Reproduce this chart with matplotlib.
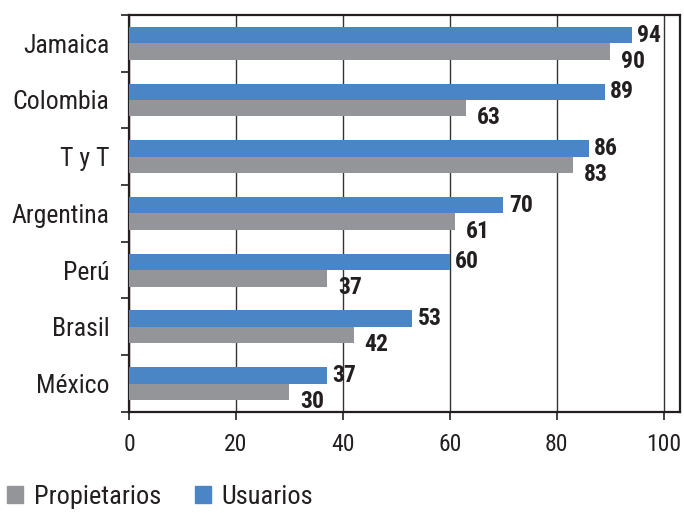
import numpy as np
import matplotlib
matplotlib.use("Agg")
import matplotlib.pyplot as plt
from matplotlib.patches import Patch

plt.rcParams['font.family'] = ['Roboto Condensed', 'DejaVu Sans']

# ===== datos =====
paises = ["Jamaica", "Colombia", "T y T", "Argentina", "Perú", "Brasil", "México"]
usuarios = [94, 89, 86, 70, 60, 53, 37]
propietarios = [90, 63, 83, 61, 37, 42, 30]
xticks = [0, 20, 40, 60, 80, 100]

azul = "#4a86c5"
gris = "#939598"
texto = "#231f20"

fig = plt.figure(figsize=(6.84, 5.13), dpi=100)
ax = fig.add_axes([0.1886, 0.197, 0.805, 0.774])

y = np.arange(len(paises))
h = 0.29
ax.barh(y - h / 2, usuarios, height=h, color=azul, zorder=3)
ax.barh(y + h / 2, propietarios, height=h, color=gris, zorder=3)

# etiquetas de valor
for yi, u, p in zip(y, usuarios, propietarios):
    ax.annotate(str(u), (u, yi - h / 2), xytext=(4, 0), textcoords="offset points",
                ha="left", va="center", fontsize=17, fontweight="bold", color=texto)
    ax.annotate(str(p), (p, yi + h * 1.08), xytext=(8, 0), textcoords="offset points",
                ha="left", va="center", fontsize=17, fontweight="bold", color=texto)

ax.set_ylim(len(paises) - 0.5, -0.5)
ax.set_xlim(0, 103)
ax.set_xticks(xticks)
ax.set_xticklabels([str(t) for t in xticks])
ax.set_yticks(y)
ax.set_yticklabels(paises)
ax.set_yticks(np.arange(-0.5, len(paises)), minor=True)
ax.tick_params(axis="y", which="major", length=0, pad=14, labelsize=18.5, labelcolor=texto)
ax.tick_params(axis="y", which="minor", length=6, width=1.2, color=texto)
ax.tick_params(axis="x", length=6, width=1.2, pad=9, labelsize=17, labelcolor=texto, color=texto)

ax.grid(axis="x", color="#333333", linewidth=1.0, zorder=0)
for s in ax.spines.values():
    s.set_color(texto)
    s.set_linewidth(1.6)

handles = [Patch(color=gris, label="Propietarios"), Patch(color=azul, label="Usuarios")]
fig.legend(handles=handles, loc="lower left", bbox_to_anchor=(-0.024, -0.038), ncol=2, frameon=False,
           fontsize=19, handlelength=0.6, handleheight=0.6, handletextpad=0.4, columnspacing=1.3,
           labelcolor=texto)

fig.savefig("out.png", dpi=100)
